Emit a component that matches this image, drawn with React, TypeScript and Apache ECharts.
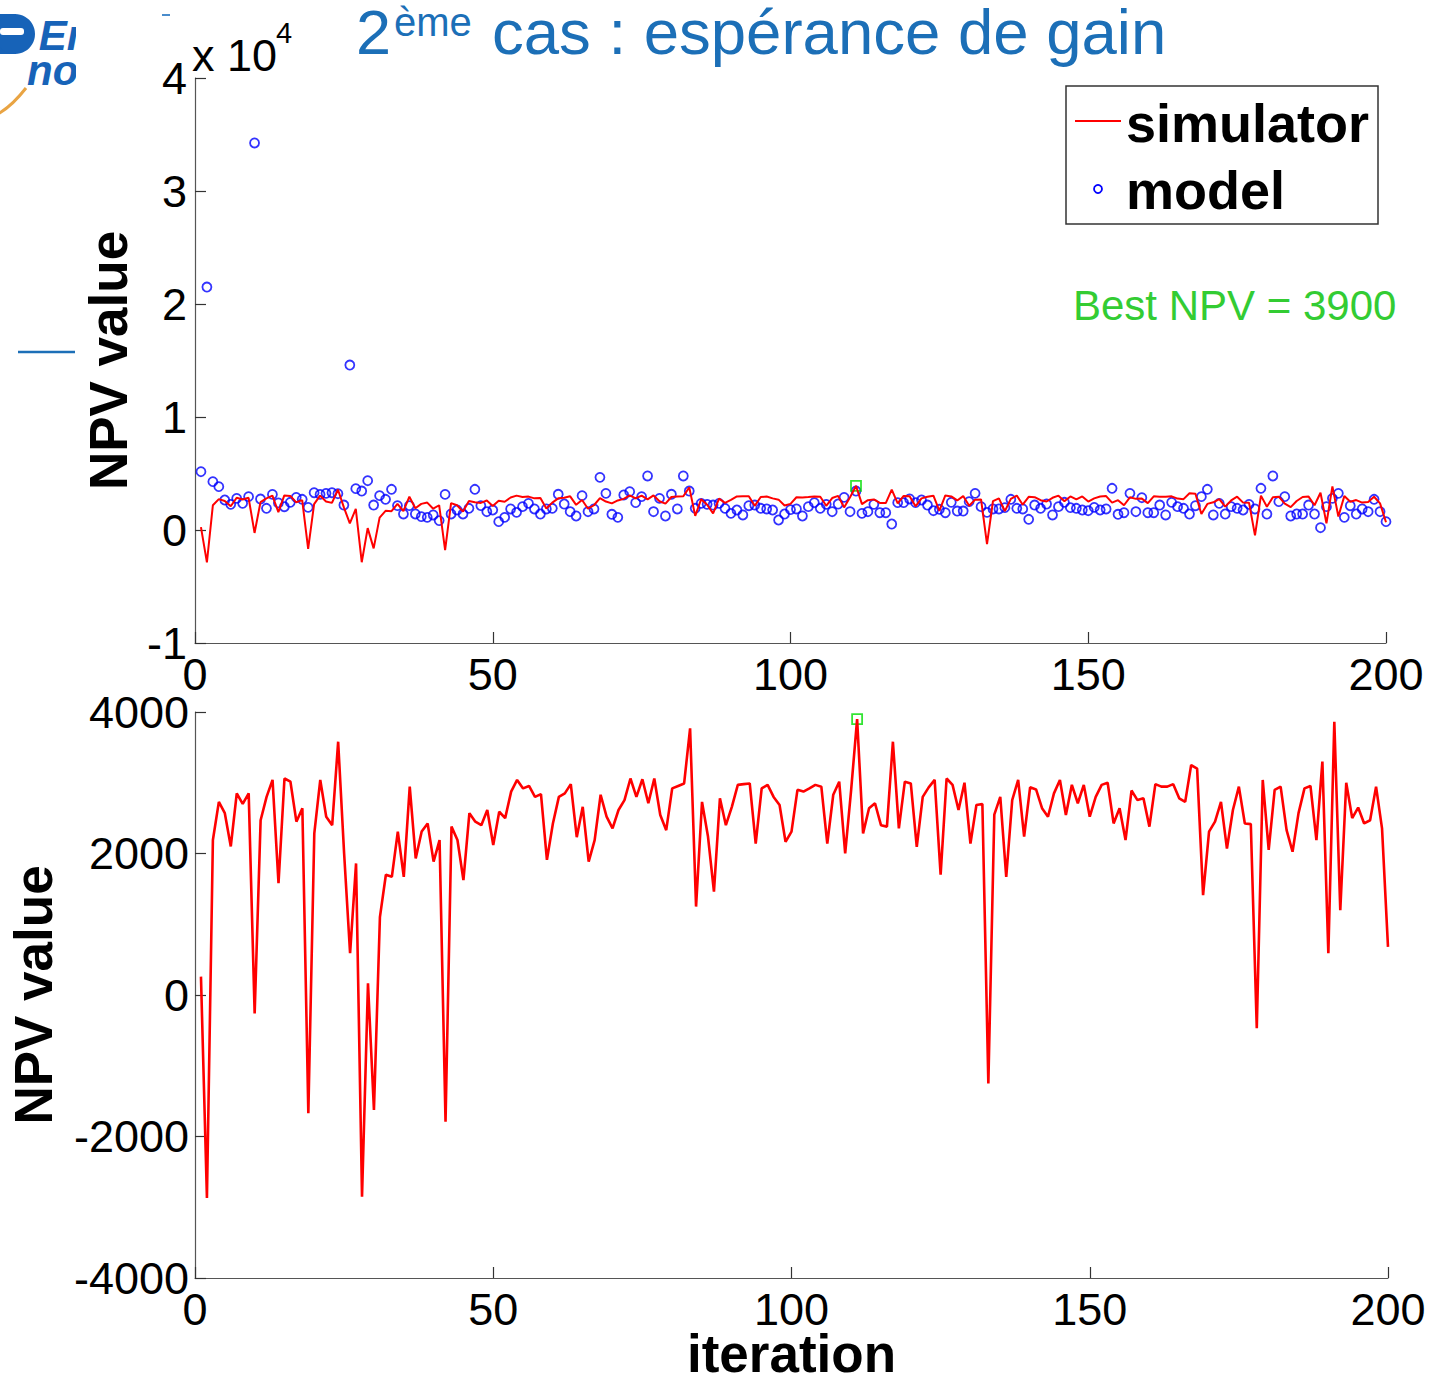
import React, { useEffect, useRef } from "react";
import * as echarts from "echarts";

const FONT = '"Liberation Sans", Arial, Helvetica, sans-serif';

// iteration numbers (x axis)
const iterations: number[] = [
  1,2,3,4,5,6,7,8,9,10,11,12,13,14,15,16,17,18,19,20,
  21,22,23,24,25,26,27,28,29,30,31,32,33,34,35,36,37,38,39,40,
  41,42,43,44,45,46,47,48,49,50,51,52,53,54,55,56,57,58,59,60,
  61,62,63,64,65,66,67,68,69,70,71,72,73,74,75,76,77,78,79,80,
  81,82,83,84,85,86,87,88,89,90,91,92,93,94,95,96,97,98,99,100,
  101,102,103,104,105,106,107,108,109,110,111,112,113,114,115,116,117,118,119,120,
  121,122,123,124,125,126,127,128,129,130,131,132,133,134,135,136,137,138,139,140,
  141,142,143,144,145,146,147,148,149,150,151,152,153,154,155,156,157,158,159,160,
  161,162,163,164,165,166,167,168,169,170,171,172,173,174,175,176,177,178,179,180,
  181,182,183,184,185,186,187,188,189,190,191,192,193,194,195,196,197,198,199,200,
];

// simulator NPV (red line)
const simulatorNPV: number[] = [
  260,-2870,2190,2730,2570,2100,2850,2700,2850,-260,
  2470,2800,3040,1580,3060,3015,2450,2640,-1670,2285,
  3040,2520,2400,3580,2000,590,1860,-2850,165,-1625,
  1100,1700,1670,2310,1670,2945,1930,2310,2425,1885,
  2190,-1790,2380,2190,1625,2570,2450,2400,2615,2120,
  2590,2500,2875,3040,2920,2955,2800,2840,1910,2425,
  2800,2850,2980,2230,2660,1885,2190,2830,2520,2355,
  2615,2755,3060,2800,3050,2710,3060,2545,2330,2920,
  2955,2990,3770,1250,2730,2240,1460,2780,2400,2660,
  2970,2980,2990,2140,2920,2970,2800,2685,2165,2310,
  2900,2875,2920,2970,2945,2140,2830,3015,2000,2900,
  3900,2285,2640,2710,2400,2380,3580,2355,3015,2990,
  2095,2800,2935,3040,1700,3060,2970,2615,3000,2140,
  2685,2700,-1250,2550,2800,1670,2755,3040,2240,2935,
  2905,2640,2520,2850,3040,2545,2970,2710,2970,2520,
  2800,2970,3000,2425,2640,2190,2890,2755,2780,2380,
  2980,2945,2945,2980,2780,2730,3250,3200,1410,2310,
  2450,2730,2070,2615,2945,2425,2415,-470,3040,2050,
  2900,2945,2330,2025,2570,2920,2955,2190,3300,590,
  3860,1200,3000,2500,2650,2425,2470,2945,2355,680,
];

// model NPV (blue circles)
const modelNPV: number[] = [
  5160,21500,4280,3835,2655,2270,2800,2360,2950,34250,
  2740,1920,3150,2400,2060,2450,2890,2715,2000,3300,
  3150,3245,3300,3215,2210,14600,3660,3450,4365,2210,
  3040,2715,3600,2160,1420,2160,1420,1180,1120,1330,
  830,3150,1420,1770,1420,1920,3600,2160,1620,1770,
  740,1120,1860,1560,2065,2360,1860,1415,1860,1920,
  3160,2300,1620,1240,3040,1620,1860,4660,3245,1390,
  1120,3100,3390,2420,2950,4780,1620,2800,1240,3160,
  1860,4780,3450,1920,2360,2270,2210,2360,1920,1475,
  1770,1330,2150,2210,1920,1860,1770,885,1415,1800,
  1860,1240,2065,2420,1920,2270,1620,2300,2890,1620,
  3450,1475,1620,2270,1530,1530,530,2420,2420,2745,
  2420,2655,2210,1710,1830,1530,2450,1680,1680,2510,
  3245,2065,1560,1860,1860,1980,2715,1920,1860,945,
  2210,1920,2300,1330,2065,2450,1980,1920,1770,1710,
  2005,1770,1860,3690,1390,1530,3245,1620,2860,1530,
  1530,2210,1330,2450,2065,1920,1415,2150,2950,3600,
  1330,2360,1415,2065,1920,1770,2270,1860,3690,1415,
  4780,2510,2950,1240,1415,1415,2210,1415,205,2065,
  2800,3245,1120,2150,1415,1860,1620,2715,1620,740,
];

const bestIteration = 111;
const bestNPV = 3900;

const topYLabels: Record<number, string> = { [-10000]: "-1", 0: "0", 10000: "1", 20000: "2", 30000: "3", 40000: "4" };

const BLUE_TITLE = "#1c6fb7";
const GREEN = "#33cc33";

export default function App() {
  const ref = useRef<HTMLDivElement>(null);
  useEffect(() => {
    if (!ref.current) return;
    const chart = echarts.init(ref.current, undefined, { renderer: "svg" });

    const axisLine = { show: true, onZero: false, lineStyle: { color: "#555", width: 1.2 } };
    const axisTick = { show: true, inside: true, length: 11, lineStyle: { color: "#333", width: 1.2 } };
    const tickLabel = { color: "#000", fontSize: 45, fontFamily: FONT };
    const nameStyle = { color: "#000", fontSize: 53, fontWeight: "bold" as const, fontFamily: FONT };

    const simData = iterations.map((it, k) => [it, simulatorNPV[k]]);
    const modelData = iterations.map((it, k) => [it, modelNPV[k]]);

    const option: any = {
      animation: false,
      backgroundColor: "#ffffff",
      grid: [
        { left: 195, top: 78, width: 1191, height: 565, containLabel: false, outerBoundsMode: "none" },
        { left: 195, top: 712, width: 1193, height: 566, containLabel: false, outerBoundsMode: "none" },
      ],
      xAxis: [
        {
          gridIndex: 0, type: "value", min: 0, max: 200, interval: 50,
          axisLine, axisTick, splitLine: { show: false },
          axisLabel: { ...tickLabel, margin: 9 },
        },
        {
          gridIndex: 1, type: "value", min: 0, max: 200, interval: 50,
          axisLine, axisTick, splitLine: { show: false },
          axisLabel: { ...tickLabel, margin: 9 },
          name: "iteration", nameLocation: "middle", nameGap: 49, nameMoveOverlap: false,
          nameTextStyle: { ...nameStyle, lineHeight: 52 },
        },
      ],
      yAxis: [
        {
          gridIndex: 0, type: "value", min: -10000, max: 40000, interval: 10000,
          axisLine, axisTick, splitLine: { show: false },
          axisLabel: { ...tickLabel, margin: 8, formatter: (v: number) => topYLabels[v] ?? String(v / 10000) },
          name: "NPV value", nameLocation: "middle", nameRotate: 90, nameGap: 60, nameTextStyle: nameStyle,
        },
        {
          gridIndex: 1, type: "value", min: -4000, max: 4000, interval: 2000,
          axisLine, axisTick, splitLine: { show: false },
          axisLabel: { ...tickLabel, margin: 6, formatter: (v: number) => String(v) },
          name: "NPV value", nameLocation: "middle", nameRotate: 90, nameGap: 135, nameTextStyle: nameStyle,
        },
      ],
      series: [
        {
          name: "simulator", type: "line", xAxisIndex: 0, yAxisIndex: 0, data: simData,
          showSymbol: false, symbol: "none", lineStyle: { color: "#ff0000", width: 2 }, itemStyle: { color: "#ff0000" },
        },
        {
          name: "model", type: "scatter", xAxisIndex: 0, yAxisIndex: 0, data: modelData,
          symbol: "circle", symbolSize: 9,
          itemStyle: { color: "rgba(0,0,0,0)", borderColor: "#0000ff", borderWidth: 1.8 },
        },
        {
          name: "best", type: "scatter", xAxisIndex: 0, yAxisIndex: 0, data: [[bestIteration, bestNPV]],
          symbol: "rect", symbolSize: 10,
          itemStyle: { color: "rgba(0,0,0,0)", borderColor: "#00dd00", borderWidth: 1.8 },
        },
        {
          name: "simulator", type: "line", xAxisIndex: 1, yAxisIndex: 1, data: simData,
          showSymbol: false, symbol: "none", lineStyle: { color: "#ff0000", width: 2.6 }, itemStyle: { color: "#ff0000" },
        },
        {
          name: "best", type: "scatter", xAxisIndex: 1, yAxisIndex: 1, data: [[bestIteration, bestNPV]],
          symbol: "rect", symbolSize: 10,
          itemStyle: { color: "rgba(0,0,0,0)", borderColor: "#00dd00", borderWidth: 1.8 },
        },
      ],
      graphic: [
        // logo fragment
        { type: "rect", shape: { x: -12, y: 14, width: 28, height: 40 }, style: { fill: "#1763b8" } },
        { type: "circle", shape: { cx: 15, cy: 34, r: 20 }, style: { fill: "#1763b8" } },
        { type: "rect", shape: { x: 0, y: 28, width: 24, height: 7, r: 3 }, style: { fill: "#ffffff" } },
        { type: "text", x: 27, y: 53, style: { text: " En\nnou", font: `italic bold 42px ${FONT}`, fill: "#1763b8", verticalAlign: "middle", lineHeight: 35 } },
        { type: "rect", shape: { x: 76, y: 0, width: 70, height: 120 }, style: { fill: "#ffffff" } },
        { type: "bezierCurve", shape: { x1: -2, y1: 114, cpx1: 12, cpy1: 106, x2: 26, y2: 88 }, style: { stroke: "#e9a443", lineWidth: 3, fill: null } },
        { type: "line", shape: { x1: 162, y1: 15, x2: 170, y2: 15 }, style: { stroke: "#4a8ccc", lineWidth: 2 } },
        { type: "line", shape: { x1: 18, y1: 352, x2: 75, y2: 352 }, style: { stroke: "#1c6fb7", lineWidth: 2.5 } },
        // title
        { type: "text", x: 356, y: 32, style: { text: "2", font: `63px ${FONT}`, fill: BLUE_TITLE, verticalAlign: "middle", lineHeight: 58 } },
        { type: "text", x: 394, y: 22, style: { text: "ème", font: `40px ${FONT}`, fill: BLUE_TITLE, verticalAlign: "middle", lineHeight: 38 } },
        { type: "text", x: 492, y: 32, style: { text: "cas : espérance de gain", font: `63.5px ${FONT}`, fill: BLUE_TITLE, verticalAlign: "middle", lineHeight: 58 } },
        // exponent
        { type: "text", x: 192, y: 55, style: { text: "x 10", font: `45px ${FONT}`, fill: "#000", verticalAlign: "middle" } },
        { type: "text", x: 276, y: 33, style: { text: "4", font: `29px ${FONT}`, fill: "#000", verticalAlign: "middle" } },
        // legend
        { type: "rect", shape: { x: 1066, y: 86, width: 312, height: 138 }, style: { fill: "#fff", stroke: "#333", lineWidth: 1.5 } },
        { type: "line", shape: { x1: 1075, y1: 121, x2: 1121, y2: 121 }, style: { stroke: "#ff0000", lineWidth: 2 } },
        { type: "circle", shape: { cx: 1098, cy: 189, r: 4 }, style: { fill: "none", stroke: "#0000ff", lineWidth: 1.8 } },
        { type: "text", x: 1126, y: 123, style: { text: "simulator", font: `bold 54px ${FONT}`, fill: "#000", verticalAlign: "middle" } },
        { type: "text", x: 1126, y: 190, style: { text: "model", font: `bold 54px ${FONT}`, fill: "#000", verticalAlign: "middle" } },
        // best NPV annotation
        { type: "text", x: 1073, y: 305, style: { text: "Best NPV = 3900", font: `42px ${FONT}`, fill: GREEN, verticalAlign: "middle" } },
      ],
    };
    chart.setOption(option);
    return () => chart.dispose();
  }, []);

  return <div ref={ref} style={{ position: "absolute", left: 0, top: 0, width: 1431, height: 1383, background: "#fff" }} />;
}
